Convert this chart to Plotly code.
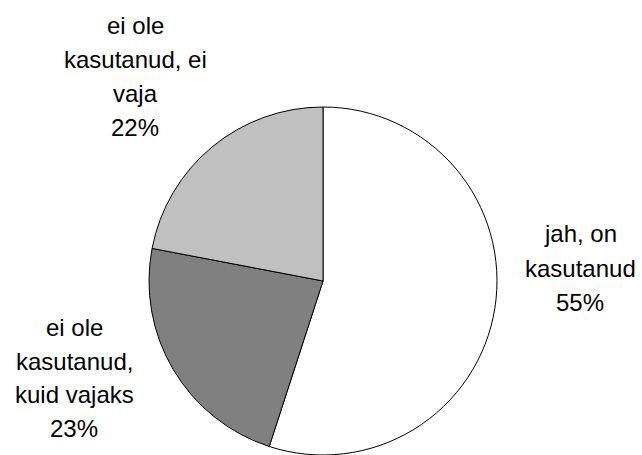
import plotly.graph_objects as go

# Data
labels = ["jah, on kasutanud", "ei ole kasutanud, kuid vajaks", "ei ole kasutanud, ei vaja"]
values = [55, 23, 22]
colors = ["#FFFFFF", "#808080", "#C0C0C0"]
label_lines = [["jah, on", "kasutanud"],
               ["ei ole", "kasutanud,", "kuid vajaks"],
               ["ei ole", "kasutanud, ei", "vaja"]]

W, H = 642, 455

fig = go.Figure(go.Pie(
    labels=labels,
    values=values,
    sort=False,
    direction="clockwise",
    rotation=0,
    marker=dict(colors=colors, line=dict(color="#000000", width=1)),
    textinfo="none",
    hoverinfo="label+percent",
    showlegend=False,
    domain=dict(x=[148 / W, 498 / W], y=[0, 348 / H]),
))

# label block placement (pixel centre x, first baseline y, line step)
label_pos = [(580, 243, 34.5), (74, 337, 33.7), (135, 35, 34)]
font_size = 24
total = sum(values)
annotations = []
for lines, val, (cx, by, step) in zip(label_lines, values, label_pos):
    all_lines = lines + [f"{round(100 * val / total)}%"]
    for i, t in enumerate(all_lines):
        base = by + i * step
        annotations.append(dict(
            text=t, x=cx / W, y=1 - base / H, xref="paper", yref="paper",
            xanchor="center", yanchor="bottom", yshift=-6,
            showarrow=False,
            font=dict(family="Liberation Sans, Arial, sans-serif", size=font_size, color="#000000"),
        ))

fig.update_layout(
    width=W, height=H,
    margin=dict(l=0, r=0, t=0, b=0),
    paper_bgcolor="#FFFFFF",
    plot_bgcolor="#FFFFFF",
    annotations=annotations,
)

fig.write_html("out.html", config={"displayModeBar": False},
               post_script="document.body.style.margin='0px';")
